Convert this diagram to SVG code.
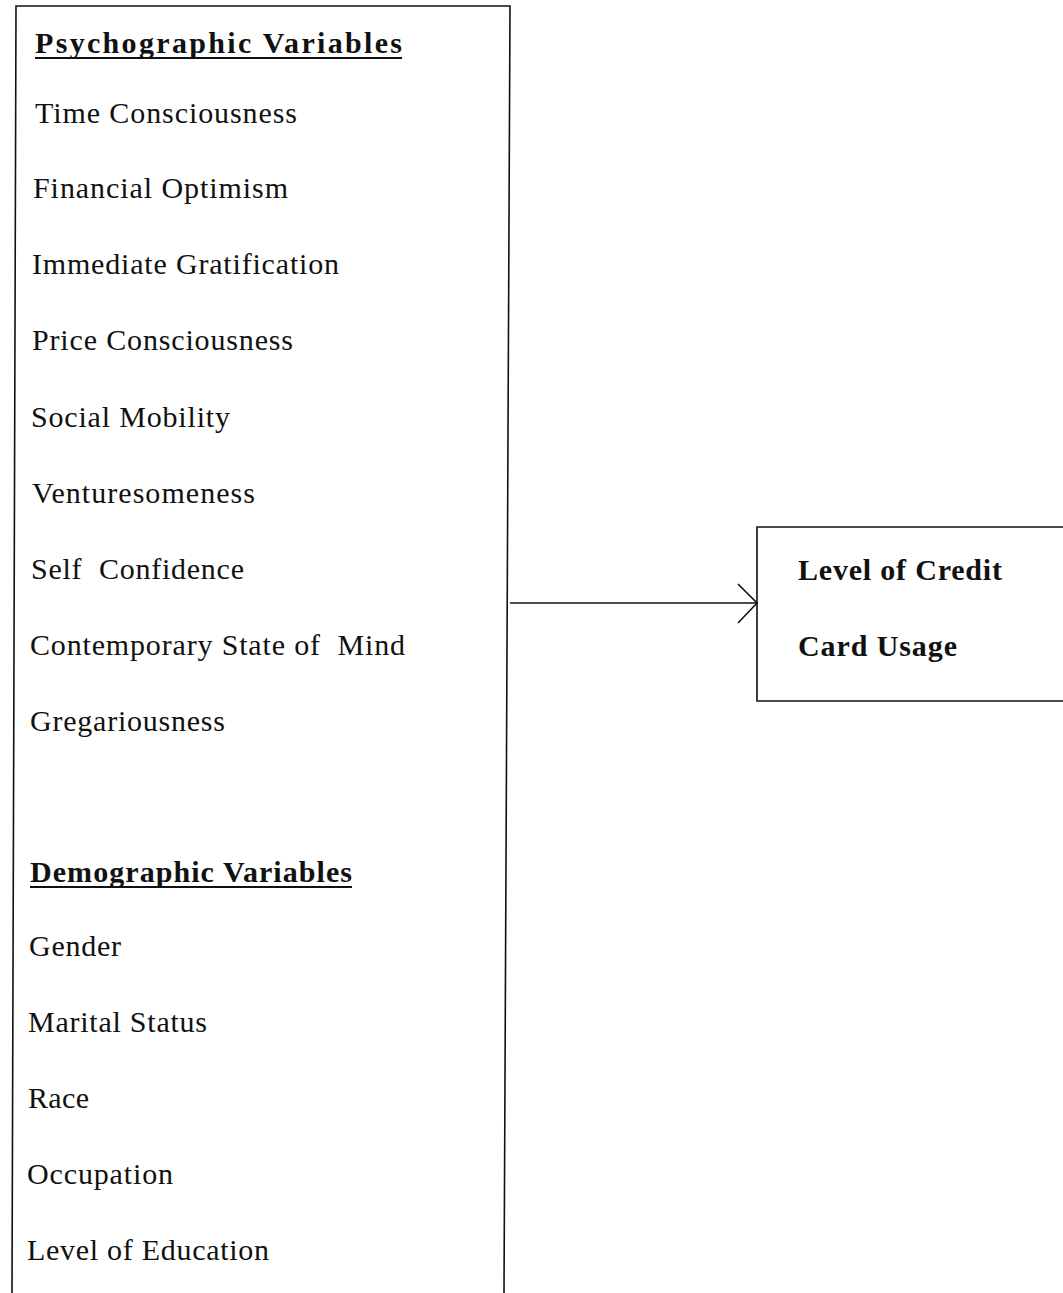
<svg xmlns="http://www.w3.org/2000/svg" width="1063" height="1293" viewBox="0 0 1063 1293">
<style>
text{font-family:"Liberation Serif","Times New Roman",serif;fill:#111;font-size:30px}
.h{font-weight:bold}
.b{font-weight:bold}
.box{fill:none;stroke:#111;stroke-width:1.6}
.conn{fill:none;stroke:#111;stroke-width:1.6}
.ul{stroke:#111;stroke-width:2}
</style>
<rect width="1063" height="1293" fill="#fff"/>
<g id="variables">
<path class="box" d="M12,1293 L16,6 L510,6 L504,1293"/>
<text class="h" x="35" y="53" textLength="367" lengthAdjust="spacing">Psychographic Variables</text>
<line class="ul" x1="35" y1="58" x2="402" y2="58"/>
<text x="35" y="123" textLength="262" lengthAdjust="spacing">Time Consciousness</text>
<text x="33" y="198" textLength="255" lengthAdjust="spacing">Financial Optimism</text>
<text x="32" y="274" textLength="307" lengthAdjust="spacing">Immediate Gratification</text>
<text x="32" y="350" textLength="261" lengthAdjust="spacing">Price Consciousness</text>
<text x="31" y="427" textLength="199" lengthAdjust="spacing">Social Mobility</text>
<text x="32" y="503" textLength="223" lengthAdjust="spacing">Venturesomeness</text>
<text x="31" y="579" textLength="213" lengthAdjust="spacing" xml:space="preserve">Self  Confidence</text>
<text x="30" y="655" textLength="375" lengthAdjust="spacing" xml:space="preserve">Contemporary State of  Mind</text>
<text x="30" y="731" textLength="195" lengthAdjust="spacing">Gregariousness</text>
<text class="h" x="30" y="882" textLength="322" lengthAdjust="spacing">Demographic Variables</text>
<line class="ul" x1="30" y1="887" x2="352" y2="887"/>
<text x="29" y="956" textLength="92" lengthAdjust="spacing">Gender</text>
<text x="28" y="1032" textLength="179" lengthAdjust="spacing">Marital Status</text>
<text x="28" y="1108" textLength="61" lengthAdjust="spacing">Race</text>
<text x="27" y="1184" textLength="146" lengthAdjust="spacing">Occupation</text>
<text x="27" y="1260" textLength="242" lengthAdjust="spacing">Level of Education</text>
</g>
<g id="usage">
<path class="box" d="M1063,527 L757,527 L757,701 L1063,701"/>
<text class="b" x="798" y="580" textLength="204" lengthAdjust="spacing">Level of Credit</text>
<text class="b" x="798" y="656" textLength="159" lengthAdjust="spacing">Card Usage</text>
</g>
<g id="connectors">
<line class="conn" x1="510" y1="603" x2="756" y2="603"/>
<polyline class="conn" points="738,584 757,603 738,623"/>
</g>
</svg>
